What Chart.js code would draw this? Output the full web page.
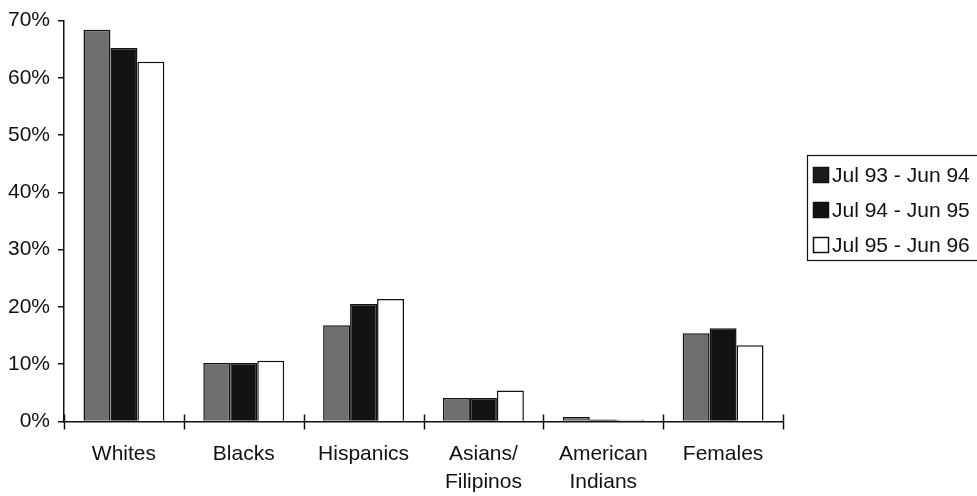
<!DOCTYPE html>
<html>
<head>
<meta charset="utf-8">
<script src="https://cdn.jsdelivr.net/npm/chart.js@4/dist/chart.umd.min.js"></script>
<style>
  html, body { margin: 0; padding: 0; background: #ffffff; }
  #wrap { width: 977px; height: 496px; position: relative; }
</style>
</head>
<body>
<div id="wrap"><canvas id="chart" width="977" height="496"></canvas></div>
<script>
// Share of each group, by fiscal year (percent)
const categories = ['Whites', 'Blacks', 'Hispanics', ['Asians/', 'Filipinos'], ['American', 'Indians'], 'Females'];
const seriesLabels = ['Jul 93 - Jun 94', 'Jul 94 - Jun 95', 'Jul 95 - Jun 96'];
const fy9394 = [68.4, 10.2, 16.8, 4.1, 0.8, 15.4];
const fy9495 = [65.2, 10.2, 20.5, 4.1, 0.35, 16.3];
const fy9596 = [62.8, 10.6, 21.4, 5.4, 0.3, 13.3];
const yTicks = [0, 10, 20, 30, 40, 50, 60, 70];

const FONT = '"Liberation Sans", Arial, Helvetica, sans-serif';
const INK = '#111111';

// Tick marks that cross the category axis at each category boundary
const crossTicks = {
  id: 'crossTicks',
  afterDraw(chart) {
    const xs = chart.scales.x;
    const ctx = chart.ctx;
    const n = chart.data.labels.length;
    const y = xs.top;
    ctx.save();
    ctx.strokeStyle = INK;
    ctx.lineWidth = 1.5;
    for (let i = 0; i <= n; i++) {
      const x = Math.round(xs.left + i * (xs.width / n)) + 0.5;
      ctx.beginPath();
      ctx.moveTo(x, y - 7);
      ctx.lineTo(x, y + 8);
      ctx.stroke();
    }
    ctx.restore();
  }
};

// Boxed legend floating at the right of the plot
const boxLegend = {
  id: 'boxLegend',
  afterDraw(chart) {
    const ctx = chart.ctx;
    const left = 807, top = 155, right = 990, bottom = 260;
    const rowY = [175, 210, 245];
    ctx.save();
    ctx.strokeStyle = INK;
    ctx.lineWidth = 1.2;
    ctx.strokeRect(left + 0.5, top + 0.5, right - left, bottom - top);
    ctx.font = '21px ' + FONT;
    ctx.textBaseline = 'middle';
    ctx.textAlign = 'left';
    chart.data.datasets.forEach((ds, i) => {
      const cy = rowY[i];
      ctx.fillStyle = ds.swatchColor || ds.backgroundColor;
      ctx.fillRect(813, cy - 8, 16, 16);
      ctx.strokeStyle = INK;
      ctx.lineWidth = 1.5;
      ctx.strokeRect(813.5, cy - 7.5, 15, 15);
      ctx.fillStyle = INK;
      ctx.fillText(ds.label, 832, cy + 1);
    });
    ctx.restore();
  }
};

const barStyle = { borderColor: INK, borderWidth: 1.5, borderSkipped: 'bottom', categoryPercentage: 0.675, barPercentage: 1.0 };

new Chart(document.getElementById('chart'), {
  type: 'bar',
  data: {
    labels: categories,
    datasets: [
      Object.assign({ label: seriesLabels[0], data: fy9394, backgroundColor: '#6e6e6e', swatchColor: '#1c1c1c' }, barStyle),
      Object.assign({ label: seriesLabels[1], data: fy9495, backgroundColor: '#131313' }, barStyle),
      Object.assign({ label: seriesLabels[2], data: fy9596, backgroundColor: '#ffffff' }, barStyle)
    ]
  },
  options: {
    responsive: false,
    animation: false,
    events: [],
    layout: { padding: { top: 19, right: 194, bottom: 0, left: 0 } },
    plugins: {
      legend: { display: false },
      tooltip: { enabled: false },
      title: { display: false }
    },
    scales: {
      x: {
        offset: true,
        grid: { display: false, drawTicks: false },
        border: { display: true, color: INK, width: 1.5 },
        ticks: {
          color: INK,
          padding: 19,
          maxRotation: 0,
          autoSkip: false,
          font: { family: FONT, size: 21, lineHeight: 1.33 }
        },
        afterFit(scale) { scale.height = 74.5; }
      },
      y: {
        min: 0,
        max: 70,
        afterBuildTicks(scale) { scale.ticks = yTicks.map(v => ({ value: v })); },
        grid: { display: true, drawOnChartArea: false, drawTicks: true, tickLength: 6, color: INK, lineWidth: 1.5 },
        border: { display: true, color: INK, width: 1.5 },
        ticks: {
          color: INK,
          padding: 8,
          font: { family: FONT, size: 21 },
          callback: v => v + '%'
        },
        afterFit(scale) { scale.width = 64; }
      }
    }
  },
  plugins: [crossTicks, boxLegend]
});
</script>
</body>
</html>
